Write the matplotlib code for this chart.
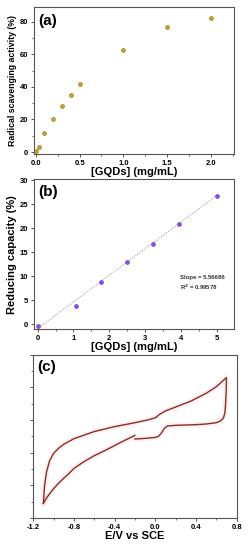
import matplotlib
matplotlib.use("Agg")
import matplotlib.pyplot as plt
import numpy as np
from matplotlib.ticker import MultipleLocator, NullFormatter

plt.rcParams["font.family"] = ["Liberation Sans", "DejaVu Sans"]
plt.rcParams["font.weight"] = "bold"

# (a) radical scavenging activity
conc_a = [0.0, 0.04, 0.1, 0.2, 0.3, 0.4, 0.5, 1.0, 1.5, 2.0]
scav_a = [0.5, 3.0, 12.0, 20.0, 28.0, 35.0, 41.5, 62.5, 77.0, 82.5]

# (b) reducing capacity with linear fit
conc_b = [0.0, 1.07, 1.77, 2.5, 3.22, 3.93, 5.0]
reduc_b = [-0.3, 3.8, 8.9, 13.0, 16.8, 20.9, 26.8]
slope_b = 5.56686
r2_b = 0.99578
fit_x = [0.0, 5.0]

# (c) cyclic voltammogram (arbitrary current units)
cv_pot = [-1.1, -1.09, -1.07, -1.04, -1.0, -0.95, -0.9, -0.8, -0.6, -0.4,
          -0.2, -0.08, 0.0, 0.04, 0.1, 0.2, 0.35, 0.5, 0.6, 0.7,
          0.698, 0.692, 0.685, 0.67, 0.64, 0.6, 0.5, 0.4, 0.2, 0.12,
          0.09, 0.06, 0.03, 0.0, -0.1, -0.2]
cv_cur = [0.45, 0.95, 1.4, 1.75, 1.98, 2.14, 2.26, 2.43, 2.65, 2.8,
          2.92, 3.0, 3.07, 3.17, 3.28, 3.4, 3.58, 3.82, 4.02, 4.3,
          3.9, 3.5, 3.22, 3.06, 2.97, 2.92, 2.88, 2.86, 2.84, 2.82,
          2.75, 2.6, 2.5, 2.47, 2.44, 2.42]
cv2_pot = [-0.2, -0.3, -0.4, -0.5, -0.6, -0.7, -0.8, -0.85, -0.9, -0.95,
           -1.0, -1.05, -1.08, -1.1]
cv2_cur = [2.53, 2.38, 2.22, 2.06, 1.91, 1.73, 1.52, 1.36, 1.22, 1.07,
           0.9, 0.7, 0.56, 0.45]

spine_col = "#555555"


def style_axes(ax):
    for s in ax.spines.values():
        s.set_color(spine_col)
        s.set_linewidth(0.8)
    ax.tick_params(which="both", direction="out", color=spine_col,
                   labelsize=5.5, pad=1.5, top=False, right=False)
    ax.tick_params(which="major", length=2.5, width=0.7)
    ax.tick_params(which="minor", length=1.5, width=0.6)
    for lab in ax.get_xticklabels() + ax.get_yticklabels():
        lab.set_fontweight("bold")


fig = plt.figure(figsize=(2.48, 5.5), dpi=100)

# ---- (a)
ax1 = fig.add_axes([0.137, 0.72, 0.806, 0.267])
ax1.scatter(conc_a, scav_a, s=8, color="#c9a227", edgecolor="#8a7014",
            linewidth=0.4, zorder=3)
ax1.set_xlim(-0.02, 2.26)
ax1.set_ylim(-1.2, 89)
ax1.xaxis.set_major_locator(MultipleLocator(0.5))
ax1.xaxis.set_minor_locator(MultipleLocator(0.25))
ax1.yaxis.set_major_locator(MultipleLocator(20))
ax1.yaxis.set_minor_locator(MultipleLocator(10))
ax1.set_xticks([0, 0.5, 1.0, 1.5, 2.0])
ax1.set_xticklabels(["0.0", "0.5", "1.0", "1.5", "2.0"])
style_axes(ax1)
ax1.set_xlabel("[GQDs] (mg/mL)", fontsize=8, fontweight="bold", labelpad=0)
ax1.set_ylabel("Radical scavenging activity (%)", fontsize=6.3,
               fontweight="bold", labelpad=2)
ax1.text(0.02, 0.95, "(a)", transform=ax1.transAxes, fontsize=11,
         fontweight="bold", va="top", ha="left")

# ---- (b)
ax2 = fig.add_axes([0.137, 0.4013, 0.806, 0.2732])
fit_y = [slope_b * x - 0.9 for x in fit_x]
ax2.plot(fit_x, fit_y, linestyle=(0, (1, 1.2)), color="#999999", linewidth=0.7,
         zorder=2)
ax2.scatter(conc_b, reduc_b, s=8, color="#8a4ff0", edgecolor="#6a30c8",
            linewidth=0.4, zorder=3)
ax2.set_xlim(-0.1, 5.47)
ax2.set_ylim(-1.04, 30.3)
ax2.xaxis.set_major_locator(MultipleLocator(1))
ax2.xaxis.set_minor_locator(MultipleLocator(0.5))
ax2.yaxis.set_major_locator(MultipleLocator(5))
style_axes(ax2)
ax2.set_xlabel("[GQDs] (mg/mL)", fontsize=8, fontweight="bold", labelpad=0)
ax2.set_ylabel("Reducing capacity (%)", fontsize=8, fontweight="bold",
               labelpad=2)
ax2.text(0.02, 0.96, "(b)", transform=ax2.transAxes, fontsize=11,
         fontweight="bold", va="top", ha="left")
ax2.text(0.73, 0.335, f"Slope = {slope_b:.5f}", transform=ax2.transAxes,
         fontsize=4.3, fontweight="bold", color="#333333")
ax2.text(0.73, 0.265, f"R$^2$ = {r2_b:.5f}", transform=ax2.transAxes,
         fontsize=4.3, fontweight="bold", color="#333333")

# ---- (c)
ax3 = fig.add_axes([0.134, 0.058, 0.82, 0.297])
for px, py in [(cv_pot, cv_cur), (cv2_pot, cv2_cur)]:
    ax3.plot(px, py, color="#f8d4ec", linewidth=4, alpha=0.35,
             solid_capstyle="round", zorder=1)
    ax3.plot(px, py, color="#8b2e16", linewidth=1.0, zorder=2)
ax3.set_xlim(-1.2, 0.8)
ax3.set_ylim(0, 5)
ax3.xaxis.set_major_locator(MultipleLocator(0.4))
ax3.xaxis.set_minor_locator(MultipleLocator(0.2))
ax3.yaxis.set_major_locator(MultipleLocator(1))
ax3.yaxis.set_minor_locator(MultipleLocator(0.5))
ax3.yaxis.set_major_formatter(NullFormatter())
ax3.set_xticks([-1.2, -0.8, -0.4, 0.0, 0.4, 0.8])
ax3.set_xticklabels(["-1.2", "-0.8", "-0.4", "0.0", "0.4", "0.8"])
style_axes(ax3)
ax3.set_xlabel("E/V vs SCE", fontsize=8, fontweight="bold", labelpad=0)
ax3.text(0.02, 0.97, "(c)", transform=ax3.transAxes, fontsize=11,
         fontweight="bold", va="top", ha="left")

fig.savefig("out.png", dpi=100)
